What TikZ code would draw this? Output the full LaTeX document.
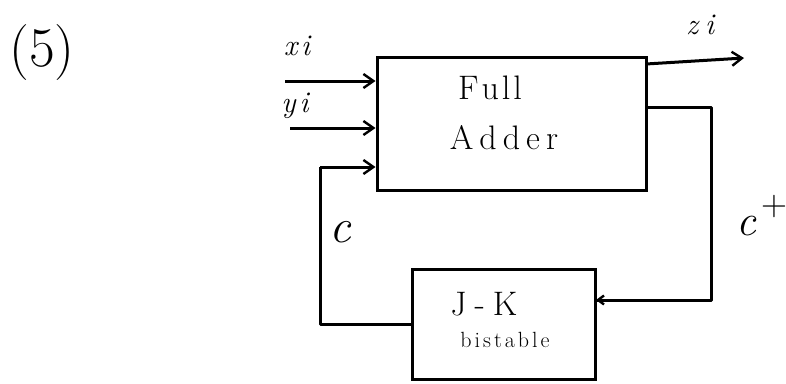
\documentclass[tikz,border=0pt]{standalone}
\usepackage{fontspec}
\usetikzlibrary{arrows.meta}
\begin{document}
\begin{tikzpicture}[x=1pt,y=-1pt,
  wire/.style={line width=3pt,line join=round},
  arr/.style={wire,-{Straight Barb[length=10pt,width=14pt,line width=2.4pt]}},
  blockbox/.style={draw,line width=3pt,rectangle,inner sep=0pt},
  lab/.style={font=\fontsize{30}{34}\selectfont\itshape,inner sep=0pt}]
\useasboundingbox (0,0) rectangle (786,383);
% title
\node[font=\fontsize{56}{60}\selectfont,inner sep=0pt] (title) at (42,53) {(5)};
% blocks
\node[blockbox,minimum width=269pt,minimum height=133pt] (FA) at (511.5,123.5) {};
\node[font=\fontsize{34}{38}\selectfont,inner sep=0pt] (full) at (490,88) {F\kern3pt u\kern3pt l\kern3pt l};
\node[font=\fontsize{34}{38}\selectfont,inner sep=0pt] (adder) at (504,138) {A\kern6pt d\kern6pt d\kern6pt e\kern6pt r};
\node[blockbox,minimum width=183pt,minimum height=110pt] (JK) at (503.5,324) {};
\node[font=\fontsize{34}{38}\selectfont,inner sep=0pt] (jkt) at (484,304) {J\kern8pt -\kern8pt K};
\node[font=\fontsize{22}{26}\selectfont,inner sep=0pt] (bist) at (505,340) {b\kern3pt i\kern3pt s\kern3pt t\kern3pt a\kern3pt b\kern3pt l\kern3pt e};
% inputs
\coordinate (xin) at (285,81);
\coordinate (yin) at (290,128);
\draw[arr] (xin) -- (xin -| FA.west);
\draw[arr] (yin) -- (yin -| FA.west);
\node[lab] (xl) at (297,46) {x\kern4pt i};
\node[lab] (yl) at (295,106) {y\kern4pt i};
% sum output
\coordinate (zstart) at (646,64);
\coordinate (zend) at (744,58);
\draw[arr] (zstart) -- (zend);
\node[lab] (zl) at (700,25) {z\kern7pt i};
% carry out to flip-flop
\coordinate (cpturn) at (711,107);
\coordinate (jkin) at (596,300);
\draw[wire] (cpturn -| FA.east) -- (cpturn) |- (jkin);
\draw[arr,-{Straight Barb[length=6pt,width=9pt,line width=2.4pt]}] (cpturn |- jkin) -- (jkin);
\node[font=\fontsize{44}{48}\selectfont\itshape,inner sep=0pt] (cpl) at (762,216) {c\kern5pt\raisebox{20pt}{\upshape\fontsize{36}{40}\selectfont +}};
% carry back
\coordinate (cturn) at (320,167);
\draw[wire] (JK.west) -| (cturn);
\draw[arr] (cturn) -- (cturn -| FA.west);
\node[font=\fontsize{48}{52}\selectfont\itshape,inner sep=0pt] (cl) at (340,232) {c};
\end{tikzpicture}
\end{document}
